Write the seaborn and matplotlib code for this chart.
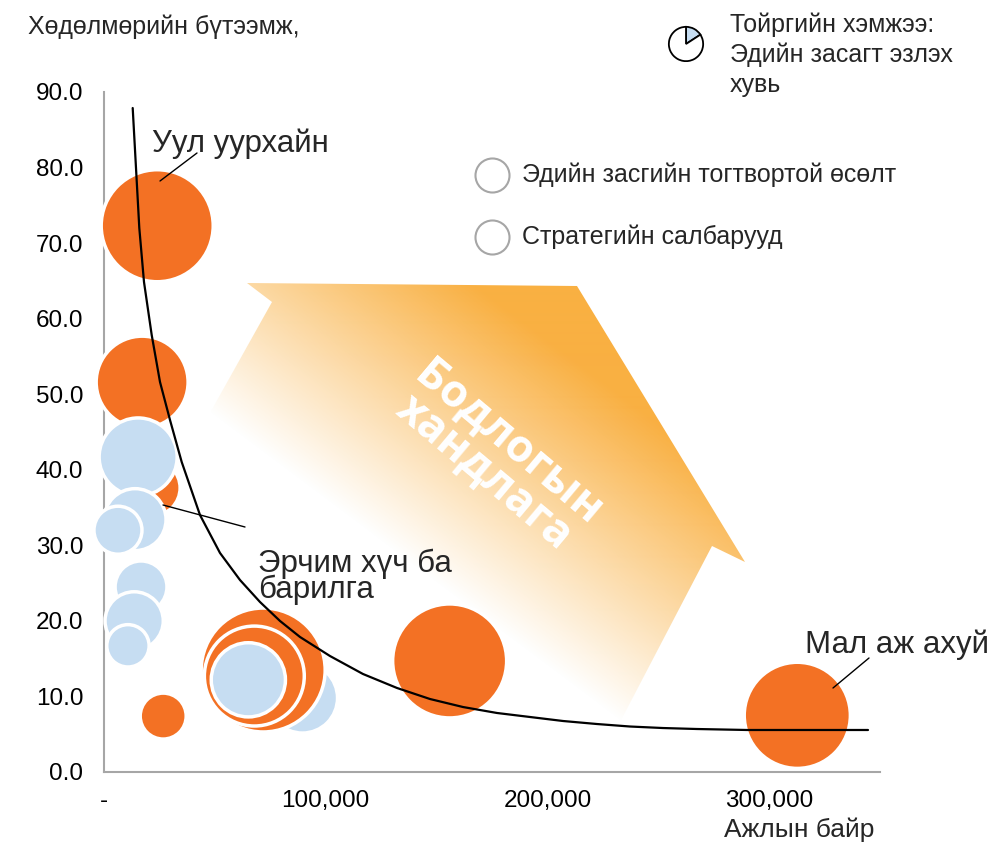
import numpy as np
import pandas as pd
import matplotlib
matplotlib.use("Agg")
import matplotlib.pyplot as plt
import seaborn as sns
from matplotlib.patches import Polygon
from matplotlib.lines import Line2D

# ---------------- data ----------------
GROUP_A = "Эдийн засгийн тогтвортой өсөлт"
GROUP_B = "Стратегийн салбарууд"

# bubbles, in drawing order
sector_group = [GROUP_B, GROUP_A, GROUP_A, GROUP_B, GROUP_A, GROUP_A, GROUP_A, GROUP_A,
                GROUP_A, GROUP_B, GROUP_B, GROUP_B, GROUP_B, GROUP_B, GROUP_B, GROUP_A]
jobs = [89500, 71800, 67800, 65100, 155900, 312700, 24000, 17200,
        21700, 15400, 14000, 6300, 16700, 13600, 10800, 26700]
productivity = [9.8, 13.5, 12.7, 12.2, 14.7, 7.5, 72.3, 51.6,
                37.6, 41.7, 33.4, 32.0, 24.5, 20.0, 16.7, 7.4]
gdp_share = [7.7, 24.0, 15.6, 8.6, 20.3, 17.6, 19.6, 13.2,
             4.9, 9.5, 6.0, 3.6, 4.2, 5.3, 2.8, 3.3]

# trend curve
curve_jobs = [12945, 14433, 15921, 18041, 21514, 25258, 29768, 35045, 43299, 52319,
              61340, 70361, 79381, 88402, 101933, 116817, 132152, 147036, 161920,
              177256, 192140, 207024, 222359, 237242, 252126, 267462, 290014, 344587]
curve_prod = [87.88, 79.94, 72.00, 64.85, 57.84, 51.62, 46.59, 41.03, 34.01, 28.99,
              25.41, 22.50, 19.99, 17.87, 15.35, 12.97, 11.12, 9.66, 8.60,
              7.81, 7.28, 6.75, 6.35, 6.02, 5.82, 5.69, 5.56, 5.56]

y_ticks = [0, 10, 20, 30, 40, 50, 60, 70, 80, 90]
y_tick_labels = ["0.0", "10.0", "20.0", "30.0", "40.0", "50.0", "60.0", "70.0", "80.0", "90.0"]
x_ticks = [0, 100000, 200000, 300000]
x_tick_labels = ["-", "100,000", "200,000", "300,000"]

icon_share = [57, 303]

# ---------------- style ----------------
ORANGE = "#F37124"
BLUE = "#C6DDF2"
GREY = "#A6A6A6"
ARROW_RGB = (249 / 255, 176 / 255, 66 / 255)

sns.set_style("white")
plt.rcParams["font.family"] = ["Liberation Sans", "DejaVu Sans"]

W, H = 995, 842
fig = plt.figure(figsize=(W / 100, H / 100), dpi=100)
AX_L, AX_R, AX_T, AX_B = 104, 880, 92, 772
ax = fig.add_axes([AX_L / W, 1 - AX_B / H, (AX_R - AX_L) / W, (AX_B - AX_T) / H])
XMAX, YMAX = 350000, 90


def px2data(px, py):
    return ((px - AX_L) / (AX_R - AX_L) * XMAX, (AX_B - py) / (AX_B - AX_T) * YMAX)


def fpx(px, py):
    return (px / W, 1 - py / H)


# ---------------- gradient arrow ----------------
arrow_px = [(247, 283), (577, 286), (745, 562), (712, 546), (595, 770), (150, 520), (272, 302)]
arrow_poly = Polygon([px2data(*p) for p in arrow_px], closed=True,
                     facecolor="none", edgecolor="none", transform=ax.transData)
ax.add_patch(arrow_poly)
gw, gh = AX_R - AX_L, AX_B - AX_T
gx = AX_L + np.arange(gw) + 0.5
gy = AX_T + np.arange(gh) + 0.5
GX, GY = np.meshgrid(gx, gy)
proj = 0.6 * GX - 0.8 * GY
t = np.clip((proj + 205) / 260, 0, 1)
img = np.zeros((gh, gw, 4))
img[..., 0], img[..., 1], img[..., 2] = ARROW_RGB
img[..., 3] = t
im = ax.imshow(img, extent=(0, XMAX, 0, YMAX), origin="upper", aspect="auto",
               zorder=0.5, interpolation="bilinear")
im.set_clip_path(arrow_poly)

# ---------------- bubbles ----------------
df = pd.DataFrame({"group": sector_group, "jobs": jobs,
                   "productivity": productivity, "share": gdp_share})
SIZE_MAX_VAL = 25
sns.scatterplot(data=df, x="jobs", y="productivity", hue="group", size="share",
                sizes=(0, 331.8 * SIZE_MAX_VAL), size_norm=(0, SIZE_MAX_VAL),
                palette={GROUP_A: ORANGE, GROUP_B: BLUE}, edgecolor="white",
                linewidth=2.5, alpha=1, legend=False, ax=ax, zorder=3, clip_on=False)

# ---------------- trend curve ----------------
sns.lineplot(x=curve_jobs, y=curve_prod, color="black", linewidth=1.6, ax=ax,
             zorder=4, sort=False, solid_joinstyle="round", solid_capstyle="round")

ax.set_xlim(0, XMAX)
ax.set_ylim(0, YMAX)
ax.set_xticks(x_ticks)
ax.set_xticklabels(x_tick_labels)
ax.set_yticks(y_ticks)
ax.set_yticklabels(y_tick_labels)
ax.set_xlabel("")
ax.set_ylabel("")
for s in ["top", "right"]:
    ax.spines[s].set_visible(False)
for s in ["left", "bottom"]:
    ax.spines[s].set_color(GREY)
    ax.spines[s].set_linewidth(1.5)
ax.tick_params(axis="both", which="major", direction="out", length=5, width=1.2,
               color=GREY, labelsize=17.5, labelcolor="black")
ax.tick_params(axis="y", pad=10)
ax.tick_params(axis="x", pad=8)
ax.grid(False)

# ---------------- annotations ----------------
LABEL_FS = 22.5
fig.text(*fpx(152, 152), "Уул уурхайн", fontsize=LABEL_FS, va="baseline", ha="left")
fig.text(*fpx(258, 572), "Эрчим хүч ба", fontsize=LABEL_FS, va="baseline", ha="left")
fig.text(*fpx(258, 598), "барилга", fontsize=LABEL_FS, va="baseline", ha="left")
fig.text(*fpx(805, 653), "Мал аж ахуй", fontsize=LABEL_FS, va="baseline", ha="left")

for (x0, y0), (x1, y1) in [((197, 153), (160, 181)), ((245, 527), (163, 505)),
                           ((869, 658), (833, 688))]:
    fig.add_artist(Line2D([x0 / W, x1 / W], [1 - y0 / H, 1 - y1 / H],
                          color="black", linewidth=1.0, zorder=6))

ax.text(*px2data(496, 458), "Бодлогын\nхандлага", rotation=-40, rotation_mode="anchor",
        ha="center", va="center", color="white", fontsize=32, fontweight="bold",
        family=["Open Sans", "DejaVu Sans"], linespacing=0.78, zorder=2)

# axis titles
fig.text(*fpx(28, 27), "Хөдөлмөрийн бүтээмж,", fontsize=18, va="center", ha="left")
fig.text(*fpx(724, 830), "Ажлын байр", fontsize=19, va="center", ha="left")

# legend-like markers
for (ly, lab) in [(175, GROUP_A), (237, GROUP_B)]:
    fig.add_artist(Line2D([492 / W], [1 - ly / H], marker="o", markersize=24.5,
                          markerfacecolor="white", markeredgecolor=GREY,
                          markeredgewidth=1.5, linestyle="none"))
    fig.text(*fpx(522, ly), lab, fontsize=18, va="center", ha="left")

# size icon
ax_icon = fig.add_axes([(686 - 18) / W, 1 - (44 + 18) / H, 36 / W, 36 / H])
ax_icon.pie(icon_share, startangle=33, counterclock=True, colors=[BLUE, "white"],
            wedgeprops=dict(edgecolor="black", linewidth=1.3))
ax_icon.set_xlim(-1.05, 1.05)
ax_icon.set_ylim(-1.05, 1.05)
ax_icon.set_aspect("equal")
ax_icon.axis("off")
for i, line in enumerate(["Тойргийн хэмжээ:", "Эдийн засагт эзлэх", "хувь"]):
    fig.text(*fpx(730, 25 + 30 * i), line, fontsize=18, va="center", ha="left")

fig.savefig("out.png", dpi=100, facecolor="white")
